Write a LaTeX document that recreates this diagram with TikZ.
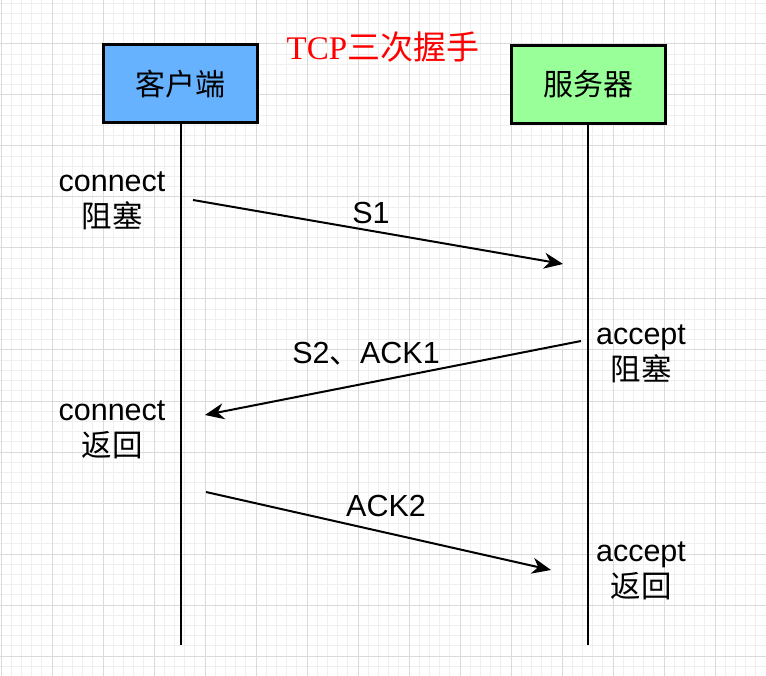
\documentclass[tikz,border=0pt]{standalone}
\usepackage{fontspec}
\setmainfont{Liberation Sans}
\newfontfamily\cjk{Noto Sans CJK SC}
\newfontfamily\serf{Liberation Serif}
\usetikzlibrary{arrows.meta}
\definecolor{gridminor}{HTML}{EFEFEF}
\definecolor{gridmajor}{HTML}{DADADA}
\definecolor{clientblue}{HTML}{66B2FF}
\definecolor{servergreen}{HTML}{99FF99}
\tikzset{
  box/.style={draw=black, line width=3pt, minimum width=154pt, minimum height=78pt, inner sep=0pt, font=\fontsize{30}{36}\selectfont\cjk},
  life/.style={line width=2.2pt, black},
  msg/.style={line width=2pt, black, -{Stealth[length=19pt,width=16pt,inset=6pt]}},
  lbl/.style={align=center, inner sep=0pt, font=\fontsize{30.5}{36}\selectfont},
}
\begin{document}
\begin{tikzpicture}[x=1pt,y=-1pt]
\useasboundingbox (0,0) rectangle (766,676);
\fill[white] (0,0) rectangle (766,676);
% grid
\foreach \i in {0,...,75} \draw[gridminor,line width=1pt] ({1+10.2*\i},0) -- ({1+10.2*\i},676);
\foreach \i in {1,...,66} \draw[gridminor,line width=1pt] (0,{-7+10.2*\i}) -- (766,{-7+10.2*\i});
\foreach \i in {0,...,15} \draw[gridmajor,line width=1pt] ({1+51*\i},0) -- ({1+51*\i},676);
\foreach \i in {1,...,13} \draw[gridmajor,line width=1pt] (0,{-7+51*\i}) -- (766,{-7+51*\i});

% title
\node[inner sep=0pt, text=red, font=\fontsize{33}{38}\selectfont] (title) at (383,47) {{\serf TCP}{\cjk 三次握手}};

% boxes
\node[box, fill=clientblue] (client) at (180,84) {客户端};
\node[box, fill=servergreen] (server) at (588.5,84.5) {服务器};

% lifelines
\coordinate (cend) at (181,645);
\coordinate (send) at (588,645);
\draw[life] (client.south -| cend) -- (cend);
\draw[life] (server.south -| send) -- (send);

% messages
\coordinate (m1s) at (193,200);
\coordinate (m1e) at (563,264);
\coordinate (m2s) at (581,341);
\coordinate (m2e) at (205,415);
\coordinate (m3s) at (206,492);
\coordinate (m3e) at (551,570);
\draw[msg] (m1s) -- (m1e);
\draw[msg] (m2s) -- (m2e);
\draw[msg] (m3s) -- (m3e);

\node[lbl] (l1) at (371,213) {S1};
\node[lbl] (l2) at (366,354) {S2{\cjk 、}ACK1};
\node[lbl] (l3) at (386,506) {ACK2};

% side labels
\node[lbl] (c1) at (112,201) {connect\\{\cjk 阻塞}};
\node[lbl] (a1) at (641,354) {accept\\{\cjk 阻塞}};
\node[lbl] (c2) at (112,430) {connect\\{\cjk 返回}};
\node[lbl] (a2) at (641,571) {accept\\{\cjk 返回}};
\end{tikzpicture}
\end{document}
